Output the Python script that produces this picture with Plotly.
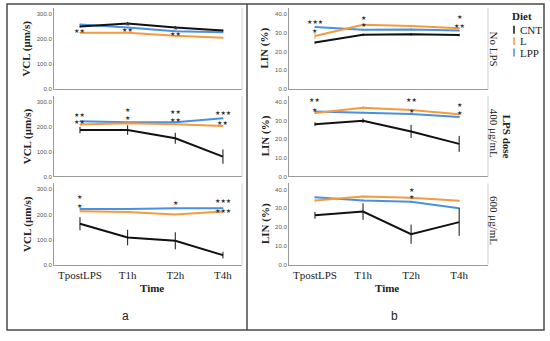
import plotly.graph_objects as go

W, H = 550, 341

categories = ["TpostLPS", "T1h", "T2h", "T4h"]
rows = ["No LPS", "400 μg/mL", "600 μg/mL"]
diets = ["CNT", "L", "LPP"]

# VCL (μm/s) per row
vcl_cnt = [[250, 262, 246, 234], [187, 187, 154, 80], [163, 108, 95, 38]]
vcl_l = [[225, 225, 213, 205], [209, 214, 210, 203], [213, 210, 200, 212]]
vcl_lpp = [[258, 246, 231, 227], [222, 218, 218, 235], [222, 222, 225, 225]]
vcl_cnt_err = [[4, 6, 6, 4], [13, 19, 22, 29], [26, 31, 34, 13]]
vcl_l_err = [[3, 3, 3, 3], [3, 3, 3, 3], [3, 4, 3, 3]]
vcl_lpp_err = [[3, 3, 3, 3], [3, 3, 3, 3], [3, 3, 3, 3]]

# LIN (%) per row
lin_cnt = [[24.8, 28.9, 29.2, 28.8], [28.1, 30.0, 24.2, 17.5], [26.2, 28.2, 16.2, 22.6]]
lin_l = [[28.3, 34.3, 33.6, 32.4], [34.1, 37.0, 35.7, 33.4], [34.1, 36.2, 35.6, 33.9]]
lin_lpp = [[33.0, 31.6, 31.8, 31.2], [35.0, 34.3, 33.6, 32.0], [35.8, 34.1, 33.4, 30.0]]
lin_cnt_err = [[0.6, 0.7, 0.7, 0.7], [1.0, 1.2, 3.5, 4.3], [1.8, 4.4, 5.1, 7.3]]
lin_l_err = [[1.7, 0.7, 0.7, 0.5], [0.5, 0.8, 0.5, 0.5], [0.5, 0.5, 0.5, 0.5]]
lin_lpp_err = [[0.5, 0.5, 0.5, 0.5], [0.5, 0.5, 0.5, 0.5], [0.5, 0.5, 0.5, 0.5]]

# significance stars: (panel, row, category index, y value, text)
stars = [
    (0, 0, 0, 233, "★★"), (0, 0, 1, 263, "★"), (0, 0, 1, 237, "★★"),
    (0, 0, 2, 247, "★"), (0, 0, 2, 220, "★★"),
    (0, 1, 0, 250, "★★"), (0, 1, 0, 220, "★★"), (0, 1, 1, 270, "★"), (0, 1, 1, 237, "★"),
    (0, 1, 2, 263, "★★"), (0, 1, 2, 230, "★★"), (0, 1, 3, 257, "★★★"), (0, 1, 3, 217, "★★"),
    (0, 2, 0, 273, "★"), (0, 2, 0, 235, "★"), (0, 2, 2, 248, "★"),
    (0, 2, 3, 254, "★★★"), (0, 2, 3, 217, "★★★"),
    (1, 0, 0, 36.1, "★★★"), (1, 0, 0, 31.2, "★"), (1, 0, 1, 37.9, "★"), (1, 0, 1, 34.4, "★"),
    (1, 0, 3, 38.4, "★"), (1, 0, 3, 34.0, "★★"),
    (1, 1, 0, 41.4, "★★"), (1, 1, 0, 35.9, "★"), (1, 1, 2, 41.4, "★★"), (1, 1, 2, 35.6, "★"),
    (1, 1, 3, 38.6, "★"), (1, 1, 3, 34.2, "★"),
    (1, 2, 2, 40.0, "★"), (1, 2, 2, 36.2, "★"),
]

colors = {"CNT": "#111111", "L": "#F59A3E", "LPP": "#4A90E2"}
SERIF = "Liberation Serif"
SANS = "Liberation Sans"


def px_x(p):
    return p / W


def px_y(p):
    return 1 - p / H


# layout geometry (pixels)
panel_x = [(54, 242), (289, 488)]
panel_xrange = [[-0.545, 3.40], [-0.54, 3.60]]
row_y = [(8, 90), (97, 178), (185, 267)]
yranges = [[0, 323.7], [0, 43.2]]
ytickvals = [[0, 100, 200, 300], [0, 10, 20, 30, 40]]

fig = go.Figure()
layout = {}
data_sets = [
    (vcl_cnt, vcl_l, vcl_lpp, vcl_cnt_err, vcl_l_err, vcl_lpp_err),
    (lin_cnt, lin_l, lin_lpp, lin_cnt_err, lin_l_err, lin_lpp_err),
]

for p in range(2):
    for r in range(3):
        i = p * 3 + r + 1
        xa = "x" if i == 1 else f"x{i}"
        ya = "y" if i == 1 else f"y{i}"
        cnt, l, lpp, ce, le, pe = data_sets[p]
        for name, vals, errs in [("LPP", lpp, pe), ("L", l, le), ("CNT", cnt, ce)]:
            fig.add_trace(go.Scatter(
                x=list(range(len(categories))), y=vals[r], mode="lines",
                line=dict(color=colors[name], width=2),
                error_y=dict(type="data", array=errs[r], color=colors[name],
                             thickness=1, width=0),
                name=name, showlegend=False, xaxis=xa, yaxis=ya, cliponaxis=False,
            ))
        layout[f"xaxis{'' if i == 1 else i}"] = dict(
            domain=[px_x(panel_x[p][0]), px_x(panel_x[p][1])],
            range=panel_xrange[p], anchor=ya,
            tickvals=list(range(len(categories))), ticktext=categories,
            showticklabels=(r == 2), ticks="", showgrid=False, zeroline=False,
            showline=True, linecolor="#9a9a9a", linewidth=1,
            tickfont=dict(family=SERIF, size=11, color="#222"),
        )
        layout[f"yaxis{'' if i == 1 else i}"] = dict(
            domain=[px_y(row_y[r][1]), px_y(row_y[r][0])],
            range=yranges[p], anchor=xa,
            tickvals=ytickvals[p], tickformat=".1f", ticks="",
            showgrid=False, zeroline=False,
            showline=True, linecolor="#9a9a9a", linewidth=1,
            tickfont=dict(family=SANS, size=6, color="#555"),
        )

annotations = []
for (p, r, c, yv, txt_) in stars:
    i = p * 3 + r + 1
    annotations.append(dict(
        x=c, y=yv, xref="x" if i == 1 else f"x{i}", yref="y" if i == 1 else f"y{i}",
        text=txt_, showarrow=False, font=dict(family="DejaVu Sans", size=6, color="#333"),
    ))


def txt(x, y, s, size=11, family=SERIF, bold=False, angle=0, xanchor="center", color="#222"):
    annotations.append(dict(
        x=px_x(x), y=px_y(y), xref="paper", yref="paper",
        text=f"<b>{s}</b>" if bold else s, showarrow=False, textangle=angle,
        xanchor=xanchor, yanchor="middle",
        font=dict(family=family, size=size, color=color),
    ))


row_centers = [49, 137.5, 226]
for rc in row_centers:
    txt(27, rc, "VCL (μm/s)", size=11, bold=True, angle=-90)
    txt(265, rc, "LIN (%)", size=11, bold=True, angle=-90)

txt(152, 291, "Time", size=11, bold=True)
txt(387, 291, "Time", size=11, bold=True)
txt(125, 319, "a", size=12, family=SANS)
txt(394, 319, "b", size=12, family=SANS)

facet_centers = [49, 134, 222]
for lab, fc in zip(rows, facet_centers):
    txt(494, fc, lab, size=11, angle=90)
txt(507, 138, "LPS dose", size=11, bold=True, angle=90)

# legend
txt(522, 16, "Diet", size=11, bold=True)
shapes = []
for k, d in enumerate(diets):
    yy = 30 + k * 11.5
    txt(518, yy, d, size=11, xanchor="left")
    shapes.append(dict(type="line", xref="paper", yref="paper",
                       x0=px_x(514), x1=px_x(514), y0=px_y(yy - 4), y1=px_y(yy + 4),
                       line=dict(color=colors[d], width=1.5)))

# frames
shapes.append(dict(type="rect", xref="paper", yref="paper",
                   x0=px_x(7), x1=px_x(544), y0=px_y(333), y1=px_y(4),
                   line=dict(color="#4a4a4a", width=1.5)))
shapes.append(dict(type="line", xref="paper", yref="paper",
                   x0=px_x(247), x1=px_x(247), y0=px_y(333), y1=px_y(4),
                   line=dict(color="#4a4a4a", width=1.5)))
for (y0, y1) in row_y:
    for xx in (242, 488):
        shapes.append(dict(type="line", xref="paper", yref="paper",
                           x0=px_x(xx), x1=px_x(xx), y0=px_y(y1), y1=px_y(y0),
                           line=dict(color="#d0d0d0", width=1)))

fig.update_layout(
    width=W, height=H, margin=dict(l=0, r=0, t=0, b=0),
    paper_bgcolor="white", plot_bgcolor="white",
    showlegend=False, annotations=annotations, shapes=shapes, **layout,
)

fig.write_html(
    "out.html",
    config={"displayModeBar": False},
    post_script="document.body.style.margin='0';document.body.style.padding='0';"
                "document.body.style.overflow='hidden';",
)
